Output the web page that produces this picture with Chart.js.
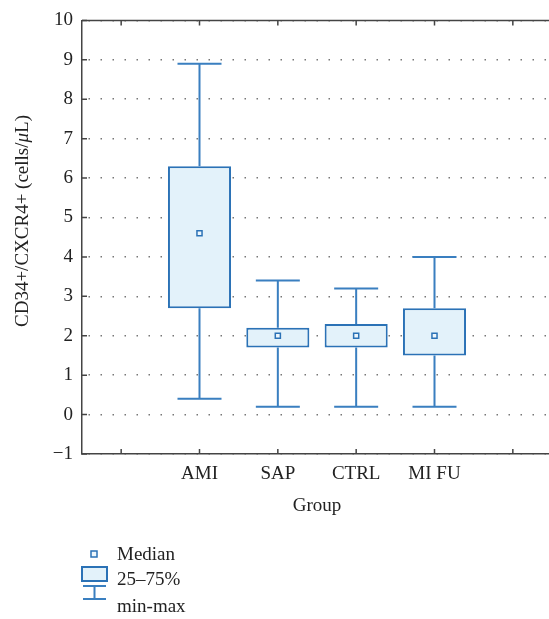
<!DOCTYPE html>
<html lang="en">
<head>
  <meta charset="UTF-8" />
  <title>CD34+/CXCR4+ by group</title>
  <script src="https://cdn.jsdelivr.net/npm/chart.js"></script>
  <style>
    body { margin: 0; background: #fff; overflow: hidden; }
    #wrap { width: 549px; height: 619px; overflow: hidden; }
  </style>
</head>
<body>
  <div id="wrap"><canvas id="boxChart" width="560" height="619"></canvas></div>

  <script>
    // values
    const groups = ['AMI', 'SAP', 'CTRL', 'MI FU'];
    const minVals = [0.4, 0.2, 0.2, 0.2];
    const q1Vals = [2.7, 1.7, 1.7, 1.5];
    const medianVals = [4.6, 2.0, 2.0, 2.0];
    const q3Vals = [6.3, 2.2, 2.3, 2.7];
    const maxVals = [8.9, 3.4, 3.2, 4.0];

    // empty slot at each end, like the original axis
    const labels = ['', ...groups, ''];
    const pad = arr => [null, ...arr, null];

    const BLUE = '#2b72b6';
    const FILL = '#e3f2fa';
    const INK = '#222';
    const SERIF = "'Liberation Serif', 'Times New Roman', serif";

    // whiskers, inward ticks, frame, y title and legend
    const boxExtras = {
      id: 'boxExtras',
      afterDatasetsDraw(chart) {
        const ctx = chart.ctx;
        const x = chart.scales.x;
        const y = chart.scales.y;
        const capHalf = 22;
        ctx.save();
        ctx.strokeStyle = '#3a7fc0';
        ctx.lineWidth = 2;
        groups.forEach((g, i) => {
          const cx = x.getPixelForValue(i + 1);
          const segs = [[q3Vals[i], maxVals[i]], [q1Vals[i], minVals[i]]];
          segs.forEach(([from, to]) => {
            const y1 = y.getPixelForValue(from);
            const y2 = y.getPixelForValue(to);
            ctx.beginPath();
            ctx.moveTo(cx, y1);
            ctx.lineTo(cx, y2);
            ctx.moveTo(cx - capHalf, y2);
            ctx.lineTo(cx + capHalf, y2);
            ctx.stroke();
          });
        });
        ctx.restore();
      },
      afterDraw(chart) {
        const ctx = chart.ctx;
        const area = chart.chartArea;
        const x = chart.scales.x;
        const y = chart.scales.y;
        ctx.save();

        // top frame line
        ctx.strokeStyle = '#444';
        ctx.lineWidth = 1.5;
        ctx.beginPath();
        ctx.moveTo(area.left, area.top);
        ctx.lineTo(area.right + 10, area.top);
        ctx.stroke();

        // inward tick marks
        ctx.beginPath();
        labels.forEach((l, i) => {
          const px = x.getPixelForTick(i);
          ctx.moveTo(px, area.bottom);
          ctx.lineTo(px, area.bottom - 5);
          ctx.moveTo(px, area.top);
          ctx.lineTo(px, area.top + 5);
        });
        y.ticks.forEach((t, i) => {
          const py = y.getPixelForTick(i);
          ctx.moveTo(area.left, py);
          ctx.lineTo(area.left + 5, py);
        });
        ctx.stroke();

        // y axis title with italic mu
        ctx.fillStyle = INK;
        ctx.textBaseline = 'middle';
        const parts = [
          ['CD34+/CXCR4+ (cells/', '19px ' + SERIF],
          ['\u03bc', 'italic 19px ' + SERIF],
          ['L)', '19px ' + SERIF]
        ];
        let total = 0;
        parts.forEach(p => { ctx.font = p[1]; total += ctx.measureText(p[0]).width; });
        ctx.translate(23, 221);
        ctx.rotate(-Math.PI / 2);
        let tx = -total / 2;
        ctx.textAlign = 'left';
        parts.forEach(p => {
          ctx.font = p[1];
          ctx.fillText(p[0], tx, 0);
          tx += ctx.measureText(p[0]).width;
        });
        ctx.setTransform(1, 0, 0, 1, 0, 0);

        // legend
        ctx.strokeStyle = BLUE;
        ctx.lineWidth = 1.5;
        ctx.fillStyle = '#eef7fc';
        ctx.fillRect(91, 551, 6, 6);
        ctx.strokeRect(91, 551, 6, 6);

        ctx.fillStyle = FILL;
        ctx.fillRect(82, 567, 25, 14);
        ctx.lineWidth = 2;
        ctx.strokeRect(82, 567, 25, 14);

        ctx.strokeStyle = '#3a7fc0';
        ctx.beginPath();
        ctx.moveTo(83, 586); ctx.lineTo(106, 586);
        ctx.moveTo(94.5, 586); ctx.lineTo(94.5, 599);
        ctx.moveTo(83, 599); ctx.lineTo(106, 599);
        ctx.stroke();

        ctx.fillStyle = INK;
        ctx.font = '19px ' + SERIF;
        ctx.textAlign = 'left';
        ctx.textBaseline = 'middle';
        ctx.fillText('Median', 117, 555);
        ctx.fillText('25\u201375%', 117, 580);
        ctx.fillText('min-max', 117, 607);

        ctx.restore();
      }
    };

    const ctx = document.getElementById('boxChart').getContext('2d');
    const boxChart = new Chart(ctx, {
      data: {
        labels: labels,
        datasets: [
          {
            type: 'line',
            label: 'Median',
            data: pad(medianVals),
            showLine: false,
            pointStyle: 'rect',
            pointRadius: 3.6,
            pointBorderWidth: 1.5,
            pointBackgroundColor: '#eef7fc',
            pointBorderColor: BLUE,
            order: 1
          },
          {
            type: 'bar',
            label: '25–75%',
            data: pad(groups.map((g, i) => [q1Vals[i], q3Vals[i]])),
            backgroundColor: FILL,
            borderColor: BLUE,
            borderWidth: 2,
            borderSkipped: false,
            categoryPercentage: 1,
            barPercentage: 0.805,
            grouped: false,
            order: 2
          }
        ]
      },
      options: {
        responsive: false,
        animation: false,
        layout: {
          autoPadding: false,
          padding: { top: 14, left: 0, right: 8, bottom: 99 }
        },
        plugins: {
          legend: { display: false },
          tooltip: { enabled: false }
        },
        scales: {
          x: {
            type: 'category',
            offset: true,
            afterFit: s => { s.height = 66; },
            grid: { display: false, drawTicks: false },
            border: { display: true, color: '#444', width: 1.5 },
            ticks: {
              color: INK,
              font: { family: SERIF, size: 19 },
              padding: 9,
              autoSkip: false,
              maxRotation: 0
            },
            title: {
              display: true,
              text: 'Group',
              color: INK,
              font: { family: SERIF, size: 19 },
              padding: { top: 0, bottom: 3 }
            }
          },
          y: {
            min: -1,
            max: 10,
            afterFit: s => { s.width = 82; },
            grid: { color: '#777', lineWidth: 1.5, drawTicks: false },
            border: { display: true, color: '#444', width: 1.5, dash: [1.5, 10.5], dashOffset: 6 },
            ticks: {
              stepSize: 1,
              color: INK,
              font: { family: SERIF, size: 19 },
              padding: 9,
              callback: v => (v < 0 ? '\u2212' + Math.abs(v) : String(v))
            }
          }
        }
      },
      plugins: [boxExtras]
    });
  </script>
</body>
</html>
